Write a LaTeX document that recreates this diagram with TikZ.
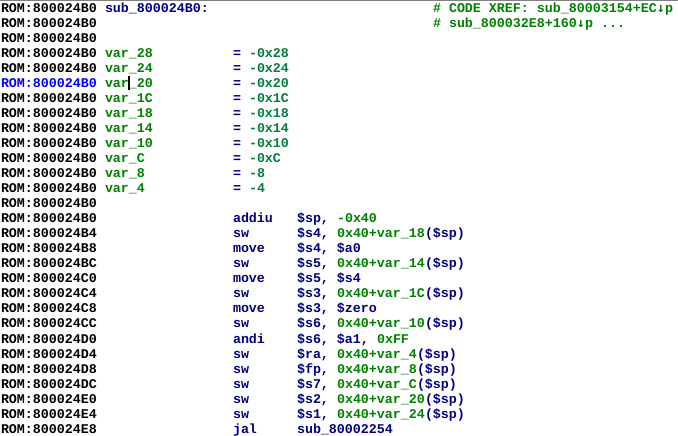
\documentclass[tikz,border=0pt]{standalone}
\usepackage{fontspec}
\setmonofont{Liberation Mono}
\newfontfamily\arrowfont{DejaVu Sans Mono}
\newcommand\codefont{\ttfamily\bfseries\fontsize{13.33bp}{15bp}\selectfont}
\definecolor{nv}{HTML}{000080}
\definecolor{gr}{HTML}{008000}
\definecolor{eq}{HTML}{00803C}
\definecolor{hl}{HTML}{0000FF}
\newcommand\dn{{\arrowfont\bfseries ↓}}
\tikzset{
  txt/.style={anchor=base west, inner sep=0pt, outer sep=0pt, font=\codefont},
  addr/.style={txt, text=black},
  lbl/.style={txt, text=nv},
  var/.style={txt, text=gr},
  num/.style={txt, text=gr},
  mnem/.style={txt, text=nv},
  opnd/.style={txt, text=nv},
}
\newcommand\swline[3]{%
  \node[opnd] (r#1) at (297,{13+15*#1}) {\$#2,};
  \node[num] (g#1) at (337,{13+15*#1}) {0x40+var\_#3};
  \node[opnd] (p#1) at (g#1.base east) {(\$sp)};}
\begin{document}
\begin{tikzpicture}[x=1bp,y=-1bp]
\useasboundingbox (0,0) rectangle (678,436);
\fill[white] (0,0) rectangle (678,436);
\draw[gray, line width=1bp] (0,0.5) -- (678,0.5);
% addresses
\foreach \i/\a in {0/B0,1/B0,2/B0,3/B0,4/B0,6/B0,7/B0,8/B0,9/B0,10/B0,11/B0,12/B0,13/B0,
  14/B0,15/B4,16/B8,17/BC,18/C0,19/C4,20/C8,21/CC,22/D0,23/D4,24/D8,25/DC,26/E0,27/E4,28/E8}
  \node[addr] (addr\i) at (1,{13+15*\i}) {ROM:800024\a};
\node[addr, text=hl] (addr5) at (1,{13+15*5}) {ROM:800024B0};
% mnemonics
\foreach \i/\m in {14/addiu,15/sw,16/move,17/sw,18/move,19/sw,20/move,21/sw,22/andi,
  23/sw,24/sw,25/sw,26/sw,27/sw,28/jal}
  \node[mnem] (m\i) at (233,{13+15*\i}) {\m};
% label and xrefs
\node[lbl] (label) at (105,13) {sub\_800024B0:};
\node[txt, text=gr] (xref1) at (433,13) {\# CODE XREF: sub\_80003154+EC\dn p};
\node[txt, text=gr] (xref2) at (433,28) {\# sub\_800032E8+160\dn p ...};
% stack variables
\foreach \i/\v/\n in {3/28/-0x28,4/24/-0x24,5/20/-0x20,6/1C/-0x1C,7/18/-0x18,8/14/-0x14,
  9/10/-0x10,10/C/-0xC,11/8/-8,12/4/-4}{
  \node[var] (v\i) at (105,{13+15*\i}) {var\_\v};
  \node[txt, text=nv] (e\i) at (233,{13+15*\i}) {=};
  \node[txt, text=eq] (n\i) at (249,{13+15*\i}) {\n};
}
% cursor
\fill[black] (128,76) rectangle (130,90);
% operands
\node[opnd] (r14) at (297,{13+15*14}) {\$sp,};
\node[num] (g14) at (337,{13+15*14}) {-0x40};
\swline{15}{s4}{18}
\node[opnd] (r16) at (297,{13+15*16}) {\$s4, \$a0};
\swline{17}{s5}{14}
\node[opnd] (r18) at (297,{13+15*18}) {\$s5, \$s4};
\swline{19}{s3}{1C}
\node[opnd] (r20) at (297,{13+15*20}) {\$s3, \$zero};
\swline{21}{s6}{10}
\node[opnd] (r22) at (297,{13+15*22}) {\$s6, \$a1,};
\node[num] (g22) at (377,{13+15*22}) {0xFF};
\swline{23}{ra}{4}
\swline{24}{fp}{8}
\swline{25}{s7}{C}
\swline{26}{s2}{20}
\swline{27}{s1}{24}
\node[opnd] (r28) at (297,{13+15*28}) {sub\_80002254};
\end{tikzpicture}
\end{document}
